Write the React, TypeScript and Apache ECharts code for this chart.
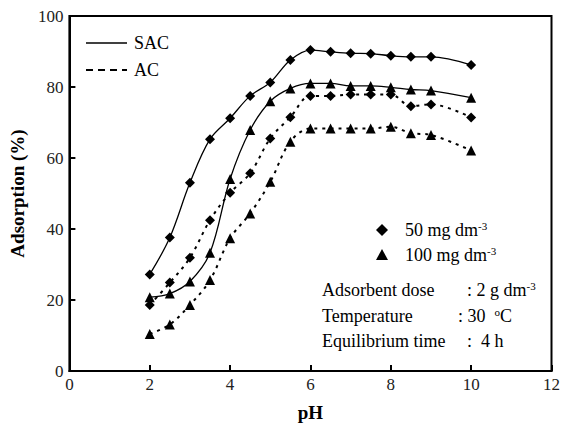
import React, { useEffect, useRef } from "react";
import * as echarts from "echarts";

const pH = [2, 2.5, 3, 3.5, 4, 4.5, 5, 5.5, 6, 6.5, 7, 7.5, 8, 8.5, 9, 10];
const sac50 = [27.2, 37.6, 53.0, 65.3, 71.2, 77.5, 81.3, 87.6, 90.4, 89.9, 89.5, 89.4, 88.8, 88.5, 88.5, 86.2];
const sac100 = [20.8, 21.8, 25.2, 33.3, 54.1, 67.9, 76.0, 79.6, 81.0, 81.0, 80.3, 80.3, 79.9, 79.3, 79.0, 77.0];
const ac50 = [18.6, 24.9, 31.9, 42.5, 50.2, 55.7, 65.5, 71.5, 77.5, 77.5, 77.9, 77.9, 77.9, 74.6, 75.1, 71.4];
const ac100 = [10.4, 13.1, 18.6, 25.6, 37.4, 44.4, 53.3, 64.6, 68.3, 68.3, 68.3, 68.3, 68.8, 67.0, 66.5, 62.1];

const xTicks = [0, 2, 4, 6, 8, 10, 12];
const yTicks = [0, 20, 40, 60, 80, 100];

const FONT = "'Liberation Serif', 'Times New Roman', serif";

function pairs(ys: number[]) {
  return pH.map((x, i) => [x, ys[i]]);
}

export default function App() {
  const ref = useRef<HTMLDivElement>(null);
  useEffect(() => {
    if (!ref.current) return;
    const chart = echarts.init(ref.current, undefined, { renderer: "svg" });
    const sup = { fontSize: 11, fontFamily: FONT, color: "#111", padding: [0, 0, 9, 0] };
    const base = { fontSize: 18, fontFamily: FONT, color: "#111" };
    const mk = (type: string, dash: any, symbol: string, size: number, data: number[]) => ({
      type: "line",
      data: pairs(data),
      smooth: 0.35,
      symbol,
      symbolSize: size,
      itemStyle: { color: "#000" },
      lineStyle: { color: "#000", width: dash === "solid" ? 1.3 : 2, type: dash },
      z: 3,
      name: type,
    });
    chart.setOption({
      animation: false,
      backgroundColor: "#fff",
      textStyle: { fontFamily: FONT },
      grid: { left: 68, right: 10, top: 16, bottom: 56, show: true, borderColor: "#000", borderWidth: 2 },
      xAxis: {
        type: "value",
        min: xTicks[0],
        max: xTicks[xTicks.length - 1],
        interval: 2,
        name: "pH",
        nameLocation: "middle",
        nameGap: 32,
        nameTextStyle: { fontFamily: FONT, fontSize: 19, fontWeight: "bold", color: "#000" },
        axisLine: { show: true, lineStyle: { color: "#000", width: 2 } },
        axisTick: { show: true, inside: true, length: 6, lineStyle: { color: "#000", width: 2 } },
        axisLabel: { fontFamily: FONT, fontSize: 17, color: "#222", margin: 5 },
        splitLine: { show: false },
      },
      yAxis: {
        type: "value",
        min: yTicks[0],
        max: yTicks[yTicks.length - 1],
        interval: 20,
        name: "Adsorption (%)",
        nameLocation: "middle",
        nameGap: 42,
        nameTextStyle: { fontFamily: FONT, fontSize: 19, fontWeight: "bold", color: "#000" },
        axisLine: { show: true, lineStyle: { color: "#000", width: 2 } },
        axisTick: { show: true, inside: true, length: 6, lineStyle: { color: "#000", width: 2 } },
        axisLabel: { fontFamily: FONT, fontSize: 17, color: "#222", margin: 6 },
        splitLine: { show: false },
      },
      series: [
        mk("SAC 50", "solid", "diamond", 10, sac50),
        mk("SAC 100", "solid", "triangle", 10, sac100),
        mk("AC 50", [3, 5], "diamond", 10, ac50),
        mk("AC 100", [3, 5], "triangle", 10, ac100),
      ],
      graphic: [
        { type: "line", shape: { x1: 86, y1: 43, x2: 127, y2: 43 }, style: { stroke: "#000", lineWidth: 1.3 } },
        { type: "text", x: 134, y: 43, style: { text: "SAC", ...base, verticalAlign: "middle" } },
        { type: "line", shape: { x1: 86, y1: 70, x2: 127, y2: 70 }, style: { stroke: "#000", lineWidth: 2, lineDash: [7, 5] } },
        { type: "text", x: 134, y: 70, style: { text: "AC", ...base, verticalAlign: "middle" } },
        { type: "polygon", shape: { points: [[382, 224], [388, 230], [382, 236], [376, 230]] }, style: { fill: "#000" } },
        {
          type: "text", x: 405, y: 230,
          style: { text: "{b|50 mg dm}{s|-3}", verticalAlign: "middle", rich: { b: base, s: sup } },
        },
        { type: "polygon", shape: { points: [[382, 249], [388, 260], [376, 260]] }, style: { fill: "#000" } },
        {
          type: "text", x: 405, y: 255,
          style: { text: "{b|100 mg dm}{s|-3}", verticalAlign: "middle", rich: { b: base, s: sup } },
        },
        { type: "text", x: 322, y: 290, style: { text: "Adsorbent dose", ...base, verticalAlign: "middle" } },
        {
          type: "text", x: 467, y: 290,
          style: { text: "{b|: 2 g dm}{s|-3}", verticalAlign: "middle", rich: { b: base, s: sup } },
        },
        { type: "text", x: 322, y: 316, style: { text: "Temperature", ...base, verticalAlign: "middle" } },
        {
          type: "text", x: 458, y: 316,
          style: { text: "{b|: 30  }{s|o}{b|C}", verticalAlign: "middle", rich: { b: base, s: sup } },
        },
        { type: "text", x: 322, y: 341, style: { text: "Equilibrium time", ...base, verticalAlign: "middle" } },
        { type: "text", x: 467, y: 341, style: { text: ":  4 h", ...base, verticalAlign: "middle" } },
      ],
    });
    return () => chart.dispose();
  }, []);
  return <div ref={ref} style={{ position: "absolute", left: 0, top: 0, width: 563, height: 427 }} />;
}
